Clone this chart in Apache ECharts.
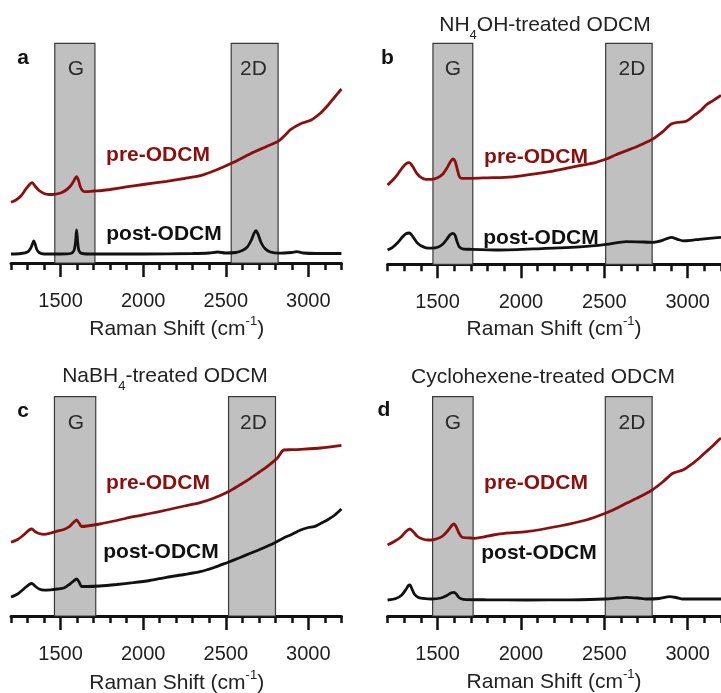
<!DOCTYPE html>
<html>
<head>
<meta charset="utf-8">
<script src="https://cdn.jsdelivr.net/npm/echarts@6/dist/echarts.min.js"></script>
<style>
  html, body { margin: 0; padding: 0; background: #ffffff; }
  #chart { width: 721px; height: 693px; }
</style>
</head>
<body>
<div id="chart"></div>
<script>
// Raman spectra of ODCM films before and after treatment (four panels).
const FONT = '"Liberation Sans", Arial, sans-serif';
const RED = '#8a0f0f';
const BLACK = '#111111';

// Raman shift axis (cm^-1)
const shiftMin = 1200;
const shiftMax = 3200;
const majorTicks = [1500, 2000, 2500, 3000];

// Panel texts
const panelLetters = ['a', 'b', 'c', 'd'];
const panelTitles = [
  '',
  '{m|NH}{s|4}{m|OH-treated ODCM}',
  '{m|NaBH}{s|4}{m|-treated ODCM}',
  '{m|Cyclohexene-treated ODCM}'
];
const bandNames = ['G', '2D'];
const seriesNames = ['pre-ODCM', 'post-ODCM'];

// Shaded G and 2D regions per panel [from, to] in cm^-1
const gBands = [[1465, 1708], [1472, 1711], [1463, 1713], [1470, 1713]];
const dBands = [[2533, 2817], [2508, 2787], [2517, 2801], [2506, 2787]];

// Spectra: [Raman shift, intensity (a.u.)]
const preA = [[1200, 60.7], [1230, 63], [1260, 67], [1290, 74], [1315, 79], [1328, 80.3], [1345, 77], [1370, 72.5], [1400, 69.5], [1430, 68.5], [1461, 68.7], [1500, 70], [1530, 72.5], [1560, 77], [1580, 82], [1595, 86.3], [1608, 83], [1620, 76], [1635, 72], [1650, 71.3], [1700, 72], [1750, 72.5], [1800, 73.5], [1907, 76.3], [2000, 78.5], [2142, 81.7], [2250, 84.5], [2345, 87.3], [2446, 93.3], [2548, 100.7], [2649, 109.3], [2750, 116.7], [2817, 121.7], [2860, 128], [2892, 133.3], [2953, 139.3], [3014, 142.7], [3074, 150], [3120, 158], [3155, 165], [3200, 174]];
const postA = [[1200, 9], [1260, 9.5], [1300, 11], [1320, 15], [1332, 20], [1338, 22], [1345, 19.5], [1355, 14], [1370, 10.5], [1400, 9], [1500, 9], [1560, 9.5], [1580, 12], [1590, 20], [1597, 33], [1604, 20], [1612, 12], [1630, 9.5], [1700, 9], [2000, 9], [2300, 9.5], [2400, 10], [2450, 11], [2500, 10], [2560, 10.5], [2600, 12.5], [2630, 16], [2655, 23], [2672, 30], [2683, 32.3], [2695, 29], [2715, 20], [2740, 14], [2770, 11], [2820, 9.8], [2900, 10.5], [2930, 11.3], [2970, 10], [3050, 9.5], [3200, 9.5]];

const preB = [[1200, 79.3], [1230, 84], [1260, 90], [1290, 97], [1310, 100.5], [1330, 101.6], [1350, 98], [1375, 91], [1400, 87], [1430, 85], [1464, 85], [1500, 86.5], [1530, 90], [1555, 96], [1575, 102], [1592, 105.3], [1605, 103], [1618, 95], [1630, 88], [1644, 86], [1700, 86], [1800, 86.5], [1903, 87], [2000, 88.5], [2172, 92.6], [2300, 97], [2372, 99.3], [2450, 102], [2512, 105.3], [2570, 109.5], [2632, 113.6], [2700, 118], [2791, 125.3], [2851, 132.6], [2901, 140.3], [2940, 142], [2982, 142.6], [3010, 145], [3042, 149.3], [3080, 154], [3111, 159.3], [3150, 163.5], [3200, 169]];
const postB = [[1200, 14.3], [1230, 17], [1260, 21.5], [1290, 27.5], [1310, 30.5], [1330, 31.3], [1350, 28], [1375, 22], [1400, 18.5], [1430, 16.5], [1464, 16.2], [1500, 17], [1530, 20], [1555, 25], [1575, 29.5], [1592, 31], [1605, 29], [1618, 22], [1630, 17.5], [1650, 15.5], [1700, 15], [1873, 14.3], [2100, 15.5], [2372, 17.6], [2512, 20], [2632, 22.6], [2700, 22.5], [2791, 22], [2850, 24], [2901, 27], [2940, 25], [2971, 23.5], [3020, 24], [3071, 25], [3130, 26], [3200, 27]];

const preC = [[1200, 73.7], [1240, 76.5], [1280, 81.5], [1310, 86], [1326, 87], [1345, 84.5], [1370, 82.5], [1401, 81.7], [1440, 83], [1480, 84.8], [1520, 86.5], [1553, 89.3], [1575, 93], [1597, 96], [1612, 93], [1627, 89.5], [1660, 90], [1737, 92], [1840, 95.5], [1940, 99.3], [2040, 102.5], [2142, 106], [2250, 110], [2345, 113.3], [2426, 117.7], [2527, 125.3], [2590, 131.5], [2649, 137.7], [2700, 143.5], [2750, 149.3], [2811, 157.7], [2851, 166], [2900, 166.3], [2953, 166.7], [3074, 168], [3200, 170.7]];
const postC = [[1200, 19], [1240, 22], [1280, 27.5], [1310, 31.5], [1326, 32.5], [1345, 30], [1370, 27], [1401, 25.8], [1440, 26.2], [1480, 27], [1520, 28], [1553, 31.5], [1575, 34.5], [1597, 37], [1612, 34], [1627, 29.5], [1660, 29.5], [1737, 30], [1840, 31.5], [1940, 33.3], [2040, 35.5], [2142, 38.7], [2250, 41.5], [2345, 44.3], [2430, 48.5], [2507, 53.3], [2580, 58], [2649, 62.7], [2720, 67.5], [2791, 72.7], [2850, 78], [2892, 81], [2953, 86], [3000, 88.5], [3034, 89.3], [3080, 93], [3115, 96], [3160, 101], [3200, 107]];

const preD = [[1200, 71], [1240, 74.5], [1280, 79], [1310, 84.5], [1334, 87], [1355, 84], [1380, 79.5], [1410, 77], [1440, 76], [1464, 76], [1500, 77.5], [1530, 80], [1560, 85], [1585, 90.5], [1598, 92], [1612, 89], [1628, 83], [1647, 78.7], [1700, 78], [1723, 77.7], [1833, 81], [1903, 82.7], [2033, 84.3], [2232, 90], [2392, 96], [2506, 102.7], [2570, 107.5], [2632, 112.7], [2710, 119], [2787, 126], [2850, 134], [2911, 142.7], [2971, 146], [3031, 152.7], [3070, 158], [3111, 164.3], [3150, 170], [3186, 176], [3200, 178]];
const postD = [[1200, 16], [1250, 17.5], [1285, 21], [1310, 26.5], [1325, 30.5], [1334, 31], [1345, 27.5], [1360, 22], [1385, 18.5], [1410, 17.7], [1464, 17], [1520, 18], [1555, 20.5], [1580, 23], [1598, 23.7], [1612, 22], [1628, 18.5], [1653, 16.7], [1800, 16.2], [2033, 16], [2300, 16.2], [2506, 17], [2580, 18], [2632, 18.7], [2700, 18], [2751, 17], [2830, 17.5], [2891, 19.3], [2930, 18.5], [2971, 17], [3100, 17], [3200, 17]];

const preSpectra = [preA, preB, preC, preD];
const postSpectra = [postA, postB, postC, postD];

// Panel geometry and text placement (pixels)
const layout = [
  { grid: { left: 11, top: 43.3, width: 330.4, height: 219.7 }, letter: [23, 58], g: [76, 69], d: [253.5, 69], pre: [158, 155], post: [164, 234], title: null, axisName: [176.7, 327] },
  { grid: { left: 387.6, top: 43.3, width: 334.1, height: 221 }, letter: [387.5, 58], g: [453, 69], d: [632, 69], pre: [536, 157], post: [541, 238], title: [545, 28], axisName: [554, 327] },
  { grid: { left: 11, top: 396.7, width: 330.4, height: 219.3 }, letter: [23, 411], g: [76, 423], d: [253.5, 423], pre: [158, 483], post: [161, 552], title: [165, 379], axisName: [176.7, 681] },
  { grid: { left: 387.6, top: 396.7, width: 334.1, height: 219.3 }, letter: [384, 410], g: [453, 423], d: [632, 423], pre: [536, 483], post: [539, 553], title: [543, 380], axisName: [554, 680] }
];

const minorTicks = [];
for (let v = shiftMin; v <= shiftMax; v += 100) minorTicks.push(v);

const grids = [], xAxes = [], yAxes = [], series = [], graphics = [];

function textEl(x, y, text, size, weight, color) {
  return {
    type: 'text', x: x, y: y, silent: true, z: 10,
    style: { text: text, fontSize: size, fontWeight: weight, fontFamily: FONT, fill: color, align: 'center', verticalAlign: 'middle' }
  };
}

layout.forEach((p, i) => {
  grids.push(Object.assign({ containLabel: false }, p.grid));
  // minor ticks + axis line
  xAxes.push({
    type: 'value', gridIndex: i, min: shiftMin, max: shiftMax, position: 'bottom', offset: 0,
    axisLine: { show: true, onZero: false, lineStyle: { color: BLACK, width: 3 } },
    axisTick: { show: true, customValues: minorTicks, length: 7, lineStyle: { color: BLACK, width: 2.5 } },
    axisLabel: { show: false },
    splitLine: { show: false }
  });
  // major ticks + labels
  xAxes.push({
    type: 'value', gridIndex: i, min: shiftMin, max: shiftMax, position: 'bottom', offset: 0,
    axisLine: { show: false, onZero: false },
    axisTick: { show: true, customValues: majorTicks, length: 14, lineStyle: { color: BLACK, width: 2.5 } },
    axisLabel: {
      show: true, customValues: majorTicks, margin: 28, fontSize: 20, color: '#1e1e1e', fontFamily: FONT,
      formatter: (v) => String(v)
    },
    splitLine: { show: false }
  });
  yAxes.push({ type: 'value', gridIndex: i, min: 0, max: p.grid.height, show: false });

  // shaded G / 2D regions
  series.push({
    type: 'line', xAxisIndex: 2 * i, yAxisIndex: i, data: [], z: 1, silent: true,
    markArea: {
      silent: true,
      itemStyle: { color: '#c0c0c0', borderColor: '#3a3a3a', borderWidth: 1.2 },
      data: [
        [{ xAxis: gBands[i][0] }, { xAxis: gBands[i][1] }],
        [{ xAxis: dBands[i][0] }, { xAxis: dBands[i][1] }]
      ]
    }
  });
  series.push({
    type: 'line', name: seriesNames[0], xAxisIndex: 2 * i, yAxisIndex: i, data: preSpectra[i],
    symbol: 'none', smooth: 0.25, z: 3, silent: true,
    lineStyle: { color: RED, width: 2.8 }
  });
  series.push({
    type: 'line', name: seriesNames[1], xAxisIndex: 2 * i, yAxisIndex: i, data: postSpectra[i],
    symbol: 'none', smooth: 0.25, z: 3, silent: true,
    lineStyle: { color: BLACK, width: 2.8 }
  });

  graphics.push(textEl(p.letter[0], p.letter[1], panelLetters[i], 21, 'bold', BLACK));
  graphics.push(textEl(p.g[0], p.g[1], bandNames[0], 21, 'normal', '#2a2a2a'));
  graphics.push(textEl(p.d[0], p.d[1], bandNames[1], 21, 'normal', '#2a2a2a'));
  graphics.push(textEl(p.pre[0], p.pre[1], seriesNames[0], 21, 'bold', RED));
  graphics.push(textEl(p.post[0], p.post[1], seriesNames[1], 21, 'bold', BLACK));

  if (p.title) {
    graphics.push({
      type: 'text', x: p.title[0], y: p.title[1], silent: true, z: 10,
      style: {
        text: panelTitles[i], align: 'center', verticalAlign: 'middle', fontFamily: FONT,
        rich: {
          m: { fontSize: 21, fontFamily: FONT, fill: '#222', verticalAlign: 'top', lineHeight: 27 },
          s: { fontSize: 13, fontFamily: FONT, fill: '#222', verticalAlign: 'bottom', lineHeight: 27 }
        }
      }
    });
  }
  graphics.push({
    type: 'text', x: p.axisName[0], y: p.axisName[1], silent: true, z: 10,
    style: {
      text: '{m|Raman Shift (cm}{p|-1}{m|)}', align: 'center', verticalAlign: 'middle', fontFamily: FONT,
      rich: {
        m: { fontSize: 21, fontFamily: FONT, fill: '#222', verticalAlign: 'bottom', lineHeight: 25 },
        p: { fontSize: 13, fontFamily: FONT, fill: '#222', verticalAlign: 'top', lineHeight: 25 }
      }
    }
  });
});

const chart = echarts.init(document.getElementById('chart'), null, { renderer: 'canvas' });
chart.setOption({
  animation: false,
  backgroundColor: '#ffffff',
  textStyle: { fontFamily: FONT },
  grid: grids,
  xAxis: xAxes,
  yAxis: yAxes,
  series: series,
  graphic: graphics
});
</script>
</body>
</html>
